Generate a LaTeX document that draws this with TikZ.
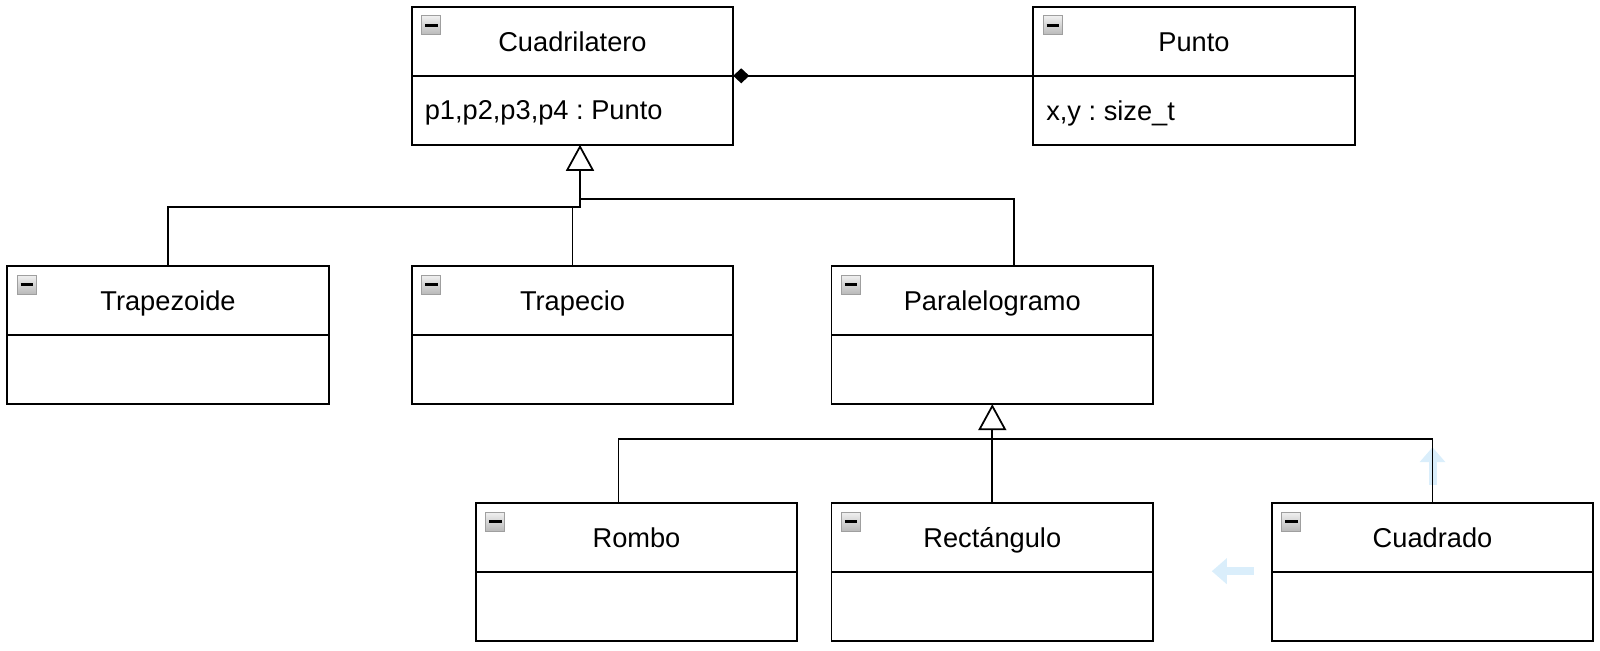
\documentclass[tikz,border=0pt]{standalone}
\usepackage{fontspec}
\setmainfont{Liberation Sans}
\usetikzlibrary{positioning,calc,arrows.meta}
\definecolor{hintblue}{RGB}{218,238,251}
\frenchspacing

\begin{document}
\begin{tikzpicture}[x=0.02cm,y=-0.02cm,line width=1pt,font=\fontsize{15.5}{18}\selectfont]
\tikzstyle{every node}+=[inner sep=0pt,outer sep=0pt]
\tikzstyle{classhead}=[draw,minimum width=6.43cm,minimum height=1.38cm,text height=11.3pt,text depth=0pt]
\tikzstyle{classbody}=[draw,minimum width=6.43cm,minimum height=1.38cm]
\tikzstyle{icon}=[draw=gray!75,line width=0.5pt,top color=gray!12,bottom color=gray!55,minimum size=0.38cm,anchor=north west]
\tikzstyle{attr}=[anchor=west]
\tikzstyle{inherit}=[-{Triangle[open,length=0.52cm,width=0.56cm]}]
\tikzstyle{hint}=[hintblue,line width=0.16cm,-{Triangle[length=0.3cm,width=0.5cm]}]
\useasboundingbox (0,0) rectangle (1600,650);
% top row
\node[classhead] (cuad) at (572.5,41.3) {Cuadrilatero};
\node[classbody,below=0pt of cuad] (cuadattr) {};
\node[attr] (cuadtxt) at ($(cuadattr.west)+(13,3)$) {p1,p2,p3,p4 : Punto};
\node[icon] (cuadicon) at ($(cuad.north west)+(10,9)$) {\rule{0.25cm}{0.05cm}};
\node[classhead] (punto) at (1194,41.3) {Punto};
\node[classbody,below=0pt of punto] (puntoattr) {};
\node[attr] (puntotxt) at ($(puntoattr.west)+(13,3)$) {x,y : size\_t};
\node[icon] (puntoicon) at ($(punto.north west)+(10,9)$) {\rule{0.25cm}{0.05cm}};
% middle row
\node[classhead] (trapezoide) at (168,300.7) {Trapezoide};
\node[classbody,below=0pt of trapezoide] (trapezoideattr) {};
\node[icon] (trapezoideicon) at ($(trapezoide.north west)+(10,9)$) {\rule{0.25cm}{0.05cm}};
\node[classhead] (trapecio) at (572.5,300.7) {Trapecio};
\node[classbody,below=0pt of trapecio] (trapecioattr) {};
\node[icon] (trapecioicon) at ($(trapecio.north west)+(10,9)$) {\rule{0.25cm}{0.05cm}};
\node[classhead] (paralelo) at (992.3,300.7) {Paralelogramo};
\node[classbody,below=0pt of paralelo] (paraattr) {};
\node[icon] (paraicon) at ($(paralelo.north west)+(10,9)$) {\rule{0.25cm}{0.05cm}};
% bottom row
\node[classhead] (rombo) at (636.5,537.7) {Rombo};
\node[classbody,below=0pt of rombo] (romboattr) {};
\node[icon] (romboicon) at ($(rombo.north west)+(10,9)$) {\rule{0.25cm}{0.05cm}};
\node[classhead] (rectangulo) at (992.3,537.7) {Rectángulo};
\node[classbody,below=0pt of rectangulo] (rectattr) {};
\node[icon] (recticon) at ($(rectangulo.north west)+(10,9)$) {\rule{0.25cm}{0.05cm}};
\node[classhead] (cuadrado) at (1432.5,537.7) {Cuadrado};
\node[classbody,below=0pt of cuadrado] (cuadradoattr) {};
\node[icon] (cuadradoicon) at ($(cuadrado.north west)+(10,9)$) {\rule{0.25cm}{0.05cm}};
% faint hover arrows
\draw[hint] ($(cuadrado.north)+(0,-18)$) -- ($(cuadrado.north)+(0,-56)$);
\draw[hint] ($(cuadrado.south west)+(-18,-1)$) -- ($(cuadrado.south west)+(-60,-1)$);
% composition
\draw[{Diamond[length=0.32cm,width=0.3cm]}-] (cuad.south east) -- (punto.south west);
% generalisation to Cuadrilatero
\coordinate (gen1) at ($(cuadattr.south)+(7.5,0)$);
\coordinate (bus1) at ($(gen1)+(0,62)$);
\draw[inherit] (trapezoide.north) |- (bus1) -- (gen1);
\draw (trapecio.north) -- (trapecio.north |- bus1);
\draw ($(paralelo.north)+(22,0)$) |- ($(gen1)+(0,54)$);
% generalisation to Paralelogramo
\coordinate (bus2) at ($(paraattr.south)+(0,35)$);
\draw[inherit] (rectangulo.north) -- (paraattr.south);
\draw ($(rombo.north)+(-18,0)$) |- (cuadrado.north |- bus2) -- (cuadrado.north);
\end{tikzpicture}
\end{document}
